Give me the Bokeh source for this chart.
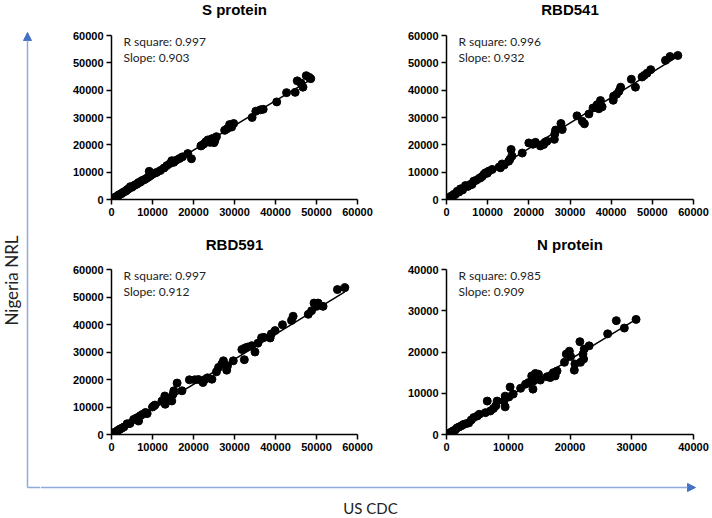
import math
from bokeh.plotting import figure
from bokeh.layouts import row, column
from bokeh.models import Range1d, Arrow, NormalHead, FixedTicker
from bokeh.core.properties import value
from bokeh.embed import file_html
from bokeh.resources import INLINE

# ---------------- data ----------------
titles = ["S protein", "RBD541", "RBD591", "N protein"]
r_square = ["0.997", "0.996", "0.997", "0.985"]
slopes = [0.903, 0.932, 0.912, 0.909]
ticks_60k = [0, 10000, 20000, 30000, 40000, 50000, 60000]
ticks_40k = [0, 10000, 20000, 30000, 40000]

s_cdc = [200, 500, 800, 1000, 1300, 1600, 1900, 2200, 2500, 2800,
         3200, 3500, 3800, 4100, 4400, 4600, 5000, 5400, 5800, 6200,
         6600, 7000, 7400, 7800, 8200, 8700, 9100, 9200, 9600, 10000,
         10500, 11000, 11900, 12800, 13500, 14300, 14700, 15200, 15800, 16600,
         17300, 18600, 19500, 21800, 22000, 22500, 23000, 23500, 24000, 24300,
         24600, 25000, 25200, 25600, 27600, 28200, 28800, 29300, 29800, 34300,
         35200, 36300, 37000, 40300, 42700, 44800, 45300, 46200, 46700, 47500,
         48200, 48600]
s_nrl = [150, 400, 700, 900, 1100, 1500, 1700, 2000, 2200, 2600,
         2900, 3100, 3600, 3800, 4200, 4700, 4500, 5000, 5400, 5600,
         6200, 6300, 6900, 7100, 7400, 7900, 8300, 10300, 8800, 9300,
         9600, 9900, 10600, 11500, 12400, 13200, 14200, 13600, 14400, 15000,
         15600, 16800, 14900, 19600, 19800, 20300, 21100, 21800, 20900, 22000,
         22300, 20800, 21500, 23000, 25300, 25900, 27400, 26500, 27800, 30000,
         32300, 32800, 33000, 35700, 39100, 39200, 43400, 42600, 41100, 45300,
         44700, 44200]

r541_cdc = [300, 600, 900, 1200, 1500, 1800, 2100, 2600, 3000, 3400,
            3900, 4600, 5200, 5800, 6200, 6600, 7200, 7900, 8300, 8700,
            9100, 9500, 9900, 10300, 11100, 12800, 13100, 13500, 14000, 15100,
            15400, 15700, 15900, 18400, 20000, 21000, 21600, 22800, 23600, 24000,
            24400, 26200, 26300, 26500, 27800, 28100, 31700, 33000, 33500, 34600,
            35600, 36600, 37000, 37400, 37800, 40500, 40600, 41300, 41900, 42300,
            44900, 45900, 47500, 48000, 48700, 49600, 53200, 54300, 56200]
r541_nrl = [200, 700, 800, 1300, 1200, 1900, 1800, 3000, 2700, 3900,
            3500, 5100, 4800, 5500, 5500, 6700, 7000, 7700, 8000, 8500,
            9200, 9800, 9600, 10400, 11000, 11900, 11600, 13000, 12600, 14000,
            14700, 18300, 15900, 17000, 20700, 20200, 20900, 19600, 20100, 21000,
            21300, 22000, 24000, 25400, 27800, 25600, 30600, 28600, 27700, 31300,
            33500, 34700, 33200, 36200, 33900, 36300, 37800, 38500, 39600, 41100,
            44000, 41100, 44800, 45400, 46200, 47500, 50900, 52300, 52700]

r591_cdc = [300, 600, 900, 1200, 1500, 1800, 2100, 2500, 3000, 3800,
            4500, 5400, 6200, 6600, 7000, 7500, 8300, 8700, 10000, 10300,
            10600, 12300, 13000, 13100, 13500, 14700, 15000, 15200, 16000, 17200,
            19000, 20300, 21200, 22300, 22800, 23400, 24500, 25600, 26100, 26900,
            27300, 28100, 28300, 29700, 31800, 32400, 32600, 33200, 34200, 35000,
            35700, 36600, 37200, 38700, 39000, 39900, 41700, 43900, 44300, 48000,
            48800, 49400, 50000, 50400, 51600, 55100, 56900]
r591_nrl = [300, 500, 900, 1000, 1400, 1700, 2000, 2300, 2700, 3900,
            4000, 5500, 6100, 4900, 6800, 7300, 8000, 7600, 10000, 10400,
            10700, 12200, 14000, 11000, 12800, 12200, 14600, 15900, 18700, 15900,
            19900, 19900, 20000, 18900, 20000, 20600, 20100, 22800, 24400, 25600,
            26800, 23400, 25000, 26800, 30900, 27200, 31500, 31800, 32300, 30000,
            33200, 35200, 35300, 35100, 36600, 37800, 39900, 41500, 43000, 43700,
            45000, 47800, 46600, 47800, 46600, 52700, 53400]

n_cdc = [200, 500, 800, 1100, 1400, 1700, 2000, 2400, 2700, 3100,
         3600, 4000, 4400, 5000, 5300, 6300, 6600, 7100, 7600, 8000,
         8200, 9300, 9500, 9500, 10100, 10300, 10800, 12000, 12800, 13300,
         13800, 14000, 14100, 14400, 14900, 15200, 16300, 16800, 17300, 17600,
         17900, 19100, 19400, 19900, 20100, 20700, 20800, 21600, 21700, 22100,
         22200, 22300, 23100, 26100, 27500, 28800, 30700]
n_nrl = [150, 400, 600, 900, 1100, 1600, 1800, 2100, 2400, 2600,
         2800, 3500, 4100, 4500, 4900, 5300, 8100, 5700, 6300, 7000,
         8100, 8100, 6700, 9300, 9100, 11500, 9800, 11200, 12200, 12600,
         14200, 11000, 13000, 14800, 14600, 13200, 14000, 13800, 15000, 14200,
         15400, 17500, 19500, 20200, 18900, 15600, 17100, 22500, 17500, 19500,
         18300, 20700, 21500, 24400, 27600, 25800, 27900]

# ---------------- style / layout ----------------
ARROW_LINE = "#8faadc"
ARROW_HEAD = "#4472c4"
SANS = "Liberation Sans"
NOTE_FONT = "Lato"

LEFT_BL, LEFT_BR, FRAME_LW = 71, 21, 246
RIGHT_BL, RIGHT_BR, FRAME_RW = 68, 17, 247
LEFT_W = LEFT_BL + FRAME_LW + LEFT_BR
RIGHT_W = RIGHT_BL + FRAME_RW + RIGHT_BR
TITLE_H = 20


def panel(xs, ys, ticks_x, ticks_y, r2, slope, width, height, bl, br, bt, bb):
    p = figure(width=width, height=height,
               x_range=Range1d(0, ticks_x[-1]), y_range=Range1d(0, ticks_y[-1]),
               output_backend="svg", toolbar_location=None,
               min_border_left=bl, min_border_right=br,
               min_border_top=bt, min_border_bottom=bb)
    p.outline_line_color = None
    p.grid.visible = False
    p.xaxis.ticker = FixedTicker(ticks=ticks_x)
    p.yaxis.ticker = FixedTicker(ticks=ticks_y)
    for ax in (p.xaxis[0], p.yaxis[0]):
        ax.axis_line_color = "black"
        ax.axis_line_width = 1.5
        ax.major_tick_line_color = "black"
        ax.major_tick_line_width = 1.5
        ax.major_tick_out = 5
        ax.major_tick_in = 0
        ax.minor_tick_line_color = None
        ax.major_label_text_font = SANS
        ax.major_label_text_font_style = "bold"
        ax.major_label_text_font_size = "11px"
        ax.major_label_text_color = "black"
        ax.major_label_standoff = 3
    # regression line through origin across the data span
    lx = [0, max(xs)]
    ly = [slope * v for v in lx]
    p.line(lx, ly, line_color="black", line_width=1.5)
    p.scatter(xs, ys, size=8, fill_color="black", line_color="black")
    p.text(x=[0, 0], y=[ticks_y[-1], ticks_y[-1]],
           text=["R square: " + r2, "Slope: %.3f" % slope],
           x_offset=12, y_offset=[6, 22],
           text_font=value(NOTE_FONT), text_font_size="12px",
           text_color="#222222", text_baseline="middle", text_align="left")
    return p


def title_strip(left_title, right_title, ty):
    w = LEFT_W + RIGHT_W
    t = figure(width=w, height=TITLE_H, x_range=Range1d(0, w), y_range=Range1d(TITLE_H, 0),
               output_backend="svg", toolbar_location=None,
               x_axis_location=None, y_axis_location=None, min_border=0)
    t.outline_line_color = None
    t.grid.visible = False
    cx = [LEFT_BL + FRAME_LW / 2, LEFT_W + RIGHT_BL + FRAME_RW / 2]
    t.text(x=cx, y=[ty, ty], text=[left_title, right_title],
           text_align="center", text_baseline="middle",
           text_font=value(SANS), text_font_style="bold", text_font_size="15px",
           text_color="black")
    return t


tl = panel(s_cdc, s_nrl, ticks_60k, ticks_60k, r_square[0], slopes[0],
           LEFT_W, 216, LEFT_BL, LEFT_BR, 15, 37)
tr = panel(r541_cdc, r541_nrl, ticks_60k, ticks_60k, r_square[1], slopes[1],
           RIGHT_W, 216, RIGHT_BL, RIGHT_BR, 15, 37)
bl = panel(r591_cdc, r591_nrl, ticks_60k, ticks_60k, r_square[2], slopes[2],
           LEFT_W, 204, LEFT_BL, LEFT_BR, 13, 26)
br = panel(n_cdc, n_nrl, ticks_40k, ticks_40k, r_square[3], slopes[3],
           RIGHT_W, 204, RIGHT_BL, RIGHT_BR, 13, 26)

top_titles = title_strip(titles[0], titles[1], 9)
bot_titles = title_strip(titles[2], titles[3], 8)

# left strip: vertical arrow + y title
STRIP_W, STRIP_H = 40, 516
ls = figure(width=STRIP_W, height=STRIP_H, x_range=Range1d(0, STRIP_W),
            y_range=Range1d(STRIP_H, 0), output_backend="svg", toolbar_location=None,
            x_axis_location=None, y_axis_location=None, min_border=0)
ls.outline_line_color = None
ls.grid.visible = False
ls.add_layout(Arrow(end=NormalHead(size=8, fill_color=ARROW_HEAD, line_color=ARROW_HEAD),
                    x_start=27, y_start=487, x_end=27, y_end=32,
                    line_color=ARROW_LINE, line_width=1.5))
ls.segment(x0=[27], y0=[487], x1=[STRIP_W], y1=[487], line_color=ARROW_LINE, line_width=1.5)
ls.text(x=[11], y=[280], text=["Nigeria NRL"], angle=math.pi / 2,
        text_align="center", text_baseline="middle",
        text_font=value(NOTE_FONT), text_font_size="17px", text_color="#222222")

# bottom strip: horizontal arrow + x title
BS_W, BS_H = LEFT_W + RIGHT_W, 56
bs = figure(width=BS_W, height=BS_H, x_range=Range1d(0, BS_W),
            y_range=Range1d(BS_H, 0), output_backend="svg", toolbar_location=None,
            x_axis_location=None, y_axis_location=None, min_border=0)
bs.outline_line_color = None
bs.grid.visible = False
bs.add_layout(Arrow(end=NormalHead(size=8, fill_color=ARROW_HEAD, line_color=ARROW_HEAD),
                    x_start=0, y_start=27, x_end=655, y_end=27,
                    line_color=ARROW_LINE, line_width=1.5))
bs.text(x=[330], y=[47], text=["US CDC"], text_align="center", text_baseline="middle",
        text_font=value(NOTE_FONT), text_font_size="15px", text_color="#222222")

layout = row(ls, column(top_titles, row(tl, tr), bot_titles, row(bl, br), bs))

open("out.html", "w").write(file_html(layout, INLINE))
